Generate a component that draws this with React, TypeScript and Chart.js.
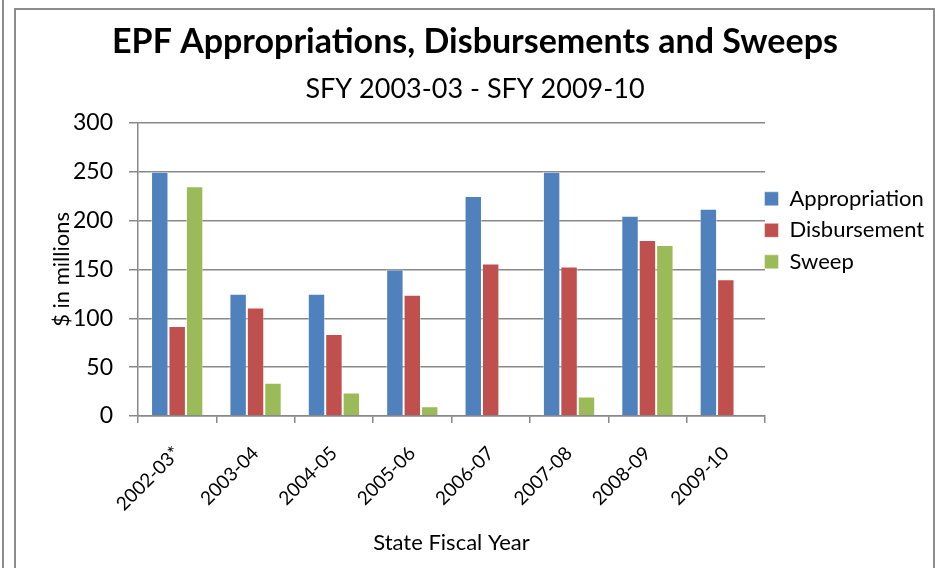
import React, { useEffect, useRef } from "react";
import { Chart, registerables } from "chart.js";

Chart.register(...registerables);

const categories = ["2002-03*", "2003-04", "2004-05", "2005-06", "2006-07", "2007-08", "2008-09", "2009-10"];
const appropriation = [250, 125, 125, 150, 225, 250, 205, 212];
const disbursement = [92, 111, 84, 124, 156, 153, 180, 140];
const sweep = [235, 34, 24, 10, 0, 20, 175, 0];
const yTicks = [0, 50, 100, 150, 200, 250, 300];

const FONT = "Lato, 'Noto Sans', sans-serif";
const GRID = "#888888";

export default function App() {
  const ref = useRef<HTMLCanvasElement | null>(null);

  useEffect(() => {
    if (!ref.current) return;
    const legendShift = {
      id: "legendShift",
      afterLayout(chart: any) {
        const lg = chart.legend;
        if (!lg) return;
        lg.left -= 10;
        lg.right -= 10;
      },
    };
    const chart = new Chart(ref.current, {
      type: "bar",
      data: {
        labels: categories,
        datasets: [
          { label: "Appropriation", data: appropriation, backgroundColor: "#4F81BD", borderColor: "rgba(255,255,255,0.45)", borderWidth: 1 },
          { label: "Disbursement", data: disbursement, backgroundColor: "#C0504D", borderColor: "rgba(255,255,255,0.45)", borderWidth: 1 },
          { label: "Sweep", data: sweep, backgroundColor: "#9BBB59", borderColor: "rgba(255,255,255,0.45)", borderWidth: 1 },
        ],
      },
      options: {
        responsive: false,
        animation: false,
        layout: { padding: { left: 15, right: 0, top: 0, bottom: 0 } },
        datasets: { bar: { categoryPercentage: 0.667, barPercentage: 1.0 } },
        plugins: {
          title: {
            display: true,
            text: "EPF Appropriations, Disbursements and Sweeps",
            color: "#000",
            font: { family: FONT, size: 34, weight: "bold", lineHeight: 1.2 },
            padding: { top: 22, bottom: 0 },
          },
          subtitle: {
            display: true,
            text: "SFY 2003-03 - SFY 2009-10",
            color: "#000",
            font: { family: FONT, size: 27, lineHeight: 1.2 },
            padding: { top: 10, bottom: 17.6 },
          },
          legend: {
            display: true,
            position: "right",
            align: "start",
            fullSize: false,
            maxWidth: 170,
            labels: {
              color: "#000",
              font: { family: FONT, size: 22 },
              boxWidth: 14,
              boxHeight: 14,
              padding: 9.5,
            },
            title: { display: true, text: "", font: { size: 10, lineHeight: 1.2 }, padding: { top: 43.5, bottom: 0 } },
          },
          tooltip: { enabled: false },
        },
        scales: {
          x: {
            grid: { display: true, drawOnChartArea: false, drawTicks: true, tickLength: 7, color: GRID, lineWidth: 1.5, offset: true },
            border: { display: true, color: GRID, width: 1.5 },
            ticks: {
              color: "#000",
              font: { family: FONT, size: 19 },
              minRotation: 45,
              maxRotation: 45,
              padding: 19,
              labelOffset: 0,
              autoSkip: false,
            },
            title: {
              display: true,
              text: "State Fiscal Year",
              color: "#000",
              font: { family: FONT, size: 22, lineHeight: 1.2 },
              padding: { top: 0, bottom: 12 },
            },
            afterFit(scale: any) {
              scale.height = 152;
            },
          },
          y: {
            min: 0,
            max: 300,
            afterBuildTicks(scale: any) {
              scale.ticks = yTicks.map((v) => ({ value: v }));
            },
            grid: { color: GRID, lineWidth: 1.5, drawTicks: true, tickLength: 9 },
            border: { display: true, color: GRID, width: 1.5 },
            ticks: { color: "#000", font: { family: FONT, size: 23 }, padding: 16 },
            title: {
              display: true,
              text: "$ in millions",
              color: "#000",
              font: { family: FONT, size: 22, lineHeight: 1.2 },
              padding: { top: 34, bottom: 0 },
            },
            afterFit(scale: any) {
              scale.width = 123;
            },
          },
        },
      },
      plugins: [legendShift],
    });
    return () => chart.destroy();
  }, []);

  return (
    <div style={{ position: "absolute", left: 0, top: 0, width: 935, height: 568, background: "#fff", overflow: "hidden" }}>
      <div style={{ position: "absolute", left: 2, top: 0, width: 2, height: 568, background: "#8c8c8c" }} />
      <div style={{ position: "absolute", left: 14, top: 8, width: 917, height: 600, borderLeft: "2px solid #8c8c8c", borderTop: "2px solid #8c8c8c", borderRight: "2px solid #8c8c8c" }} />
      <canvas ref={ref} width={935} height={568} style={{ position: "absolute", left: 0, top: 0 }} />
    </div>
  );
}
